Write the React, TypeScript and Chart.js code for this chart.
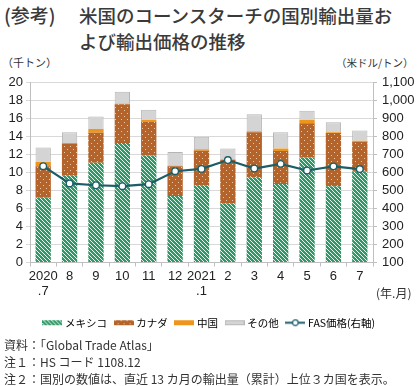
import React, { useEffect, useRef } from "react";
import { Chart, registerables } from "chart.js";
Chart.register(...registerables);

const categories: (string | string[])[] = [["2020", ".7"], "8", "9", "10", "11", "12", ["2021", ".1"], "2", "3", "4", "5", "6", "7"];
const mexico = [7.2, 9.7, 11.1, 13.3, 11.9, 7.4, 8.6, 6.6, 9.5, 8.75, 11.7, 8.5, 10.1];
const canada = [3.5, 3.5, 3.35, 4.3, 3.8, 3.3, 3.85, 4.8, 5.0, 3.65, 3.8, 5.9, 3.35];
const china = [0.5, 0.1, 0.4, 0.1, 0.15, 0.1, 0.15, 0.1, 0.1, 0.3, 0.35, 0.1, 0.1];
const other = [1.6, 1.2, 1.4, 1.3, 1.15, 1.5, 1.4, 1.2, 1.9, 1.8, 1.05, 1.1, 1.15];
const fasPrice = [636, 540, 530, 525, 536, 608, 621, 670, 623, 649, 612, 635, 620];

const seriesNames = ["メキシコ", "カナダ", "中国", "その他", "FAS価格(右軸)"];
const leftTicks = { min: 0, max: 20, step: 2 };
const rightTicks = { min: 100, max: 1100, step: 100 };

const JP = '"Noto Sans CJK JP", "Noto Sans", sans-serif';
const NUM = '"Liberation Sans", Arial, sans-serif';
const TEAL = "#1b5e68";

function makeCanvas(w: number, h: number) {
  const c = document.createElement("canvas");
  c.width = w;
  c.height = h;
  return c;
}

function mexicoTile() {
  const c = makeCanvas(4, 4);
  const g = c.getContext("2d")!;
  g.fillStyle = "#2f9a68";
  g.fillRect(0, 0, 4, 4);
  g.fillStyle = "#e8f5ee";
  for (let i = 0; i < 4; i++) g.fillRect(i, i, 1, 1);
  return c;
}

function canadaTile() {
  const c = makeCanvas(6, 6);
  const g = c.getContext("2d")!;
  g.fillStyle = "#b4632a";
  g.fillRect(0, 0, 6, 6);
  g.fillStyle = "#ecc9a4";
  g.fillRect(1, 1, 1, 1);
  g.fillRect(4, 4, 1, 1);
  return c;
}

function swatch(fill: (g: CanvasRenderingContext2D) => void) {
  const c = makeCanvas(20, 7);
  const g = c.getContext("2d")!;
  fill(g);
  return c;
}

export default function App() {
  const ref = useRef<HTMLCanvasElement>(null);
  useEffect(() => {
    document.documentElement.style.overflow = "hidden";
    document.body.style.margin = "0";
    document.body.style.overflow = "hidden";
    const ctx = ref.current!.getContext("2d")!;
    const mexPat = ctx.createPattern(mexicoTile(), "repeat")!;
    const canPat = ctx.createPattern(canadaTile(), "repeat")!;

    const sw = [
      swatch((g) => { g.fillStyle = g.createPattern(mexicoTile(), "repeat")!; g.fillRect(0, 1, 20, 5); }),
      swatch((g) => { g.fillStyle = g.createPattern(canadaTile(), "repeat")!; g.fillRect(0, 1, 20, 5); }),
      swatch((g) => { g.fillStyle = "#f0951c"; g.fillRect(0, 1, 20, 5); }),
      swatch((g) => { g.fillStyle = "#d4d4d4"; g.fillRect(0, 1, 20, 5); g.strokeStyle = "#b8b8b8"; g.strokeRect(0.5, 1.5, 19, 4); }),
    ];
    const lineSw = makeCanvas(20, 9);
    {
      const g = lineSw.getContext("2d")!;
      g.strokeStyle = TEAL;
      g.lineWidth = 2;
      g.beginPath(); g.moveTo(0, 4.5); g.lineTo(20, 4.5); g.stroke();
      g.fillStyle = "#fff";
      g.lineWidth = 1.2;
      g.beginPath(); g.arc(10, 4.5, 2.8, 0, Math.PI * 2); g.fill(); g.stroke();
    }
    const legendImgs = [...sw, lineSw];

    const chart = new Chart(ctx, {
      type: "bar",
      data: {
        labels: categories,
        datasets: [
          { type: "line", label: seriesNames[4], data: fasPrice, yAxisID: "y2", order: 0,
            borderColor: TEAL, borderWidth: 2.2, pointRadius: 3.3, pointBackgroundColor: "#fff",
            pointBorderColor: TEAL, pointBorderWidth: 1.3, tension: 0 } as any,
          { label: seriesNames[0], data: mexico, backgroundColor: mexPat, order: 1, stack: "s", yAxisID: "y" },
          { label: seriesNames[1], data: canada, backgroundColor: canPat, order: 1, stack: "s", yAxisID: "y" },
          { label: seriesNames[2], data: china, backgroundColor: "#f0951c", order: 1, stack: "s", yAxisID: "y" },
          { label: seriesNames[3], data: other, backgroundColor: "#d4d4d4", borderColor: "#b5b5b5", borderWidth: 1, order: 1, stack: "s", yAxisID: "y" },
        ],
      },
      options: {
        animation: false,
        responsive: false,
        maintainAspectRatio: false,
        datasets: { bar: { barPercentage: 1, categoryPercentage: 0.58 } },
        layout: { padding: { top: 12, left: 0, right: 0, bottom: 0 } },
        plugins: {
          tooltip: { enabled: false },
          legend: {
            position: "bottom",
            labels: {
              usePointStyle: true,
              pointStyleWidth: 15,
              boxHeight: 9,
              padding: 9,
              color: "#333",
              font: { family: JP, size: 10.5 },
              generateLabels: () =>
                seriesNames.map((n, i) => ({
                  text: n,
                  pointStyle: legendImgs[i] as any,
                  fillStyle: "#fff",
                  strokeStyle: "#fff",
                  lineWidth: 0,
                  hidden: false,
                  datasetIndex: i,
                })) as any,
            },
          },
        },
        scales: {
          x: {
            stacked: true,
            offset: true,
            grid: { display: true, drawOnChartArea: false, drawTicks: true, tickLength: 4, color: "#bfbfbf", offset: true },
            border: { display: true, color: "#bfbfbf" },
            ticks: { color: "#222", font: { family: NUM, size: 13 }, maxRotation: 0, autoSkip: false, padding: 2 },
            afterFit: (s: any) => { s.height = 46; },
          },
          y: {
            stacked: true,
            position: "left",
            min: leftTicks.min,
            max: leftTicks.max,
            ticks: { stepSize: leftTicks.step, autoSkip: false, color: "#222", font: { family: NUM, size: 13 }, padding: 3 },
            grid: { color: "#d9d9d9", tickLength: 4, drawTicks: true },
            border: { display: true, color: "#bfbfbf" },
            afterFit: (s: any) => { s.width = 30; },
          },
          y2: {
            position: "right",
            min: rightTicks.min,
            max: rightTicks.max,
            ticks: {
              stepSize: rightTicks.step,
              autoSkip: false,
              color: "#222",
              font: { family: NUM, size: 13 },
              padding: 5,
              callback: (v: any) => Number(v).toLocaleString("en-US"),
            },
            grid: { drawOnChartArea: false, tickLength: 4, color: "#bfbfbf" },
            border: { display: true, color: "#bfbfbf" },
            afterFit: (s: any) => { s.width = 47; },
          },
        },
      },
    });
    return () => chart.destroy();
  }, []);

  const txt: React.CSSProperties = { position: "absolute", whiteSpace: "nowrap", color: "#333", fontFamily: JP };
  const title: React.CSSProperties = { ...txt, fontSize: 18.5, fontWeight: 500, lineHeight: "26px", color: "#3a3a3a" };
  return (
    <div style={{ position: "fixed", left: 0, top: 0, width: 420, height: 386, background: "#fff", overflow: "hidden" }}>
      <div style={{ ...title, left: 4, top: 2, fontSize: 19 }}>(参考)</div>
      <div style={{ ...title, left: 79, top: 2 }}>米国のコーンスターチの国別輸出量お</div>
      <div style={{ ...title, left: 79, top: 28 }}>よび輸出価格の推移</div>
      <div style={{ ...txt, left: 2, top: 54, fontSize: 11 }}>（千トン）</div>
      <div style={{ ...txt, left: 336, top: 55, fontSize: 10.5 }}>（米ドル/トン）</div>
      <div style={{ position: "absolute", left: 0, top: 70, width: 420, height: 268 }}>
        <canvas ref={ref} width={420} height={268} style={{ width: 420, height: 268, display: "block" }} />
      </div>
      <div style={{ ...txt, left: 376, top: 284, fontSize: 12 }}>(年.月)</div>
      <div style={{ ...txt, left: 4, top: 336, fontSize: 12, lineHeight: "17px" }}>
        資料：「Global Trade Atlas」<br />注１：HS コード 1108.12<br />注２：国別の数値は、直近 13 カ月の輸出量（累計）上位３カ国を表示。
      </div>
    </div>
  );
}
